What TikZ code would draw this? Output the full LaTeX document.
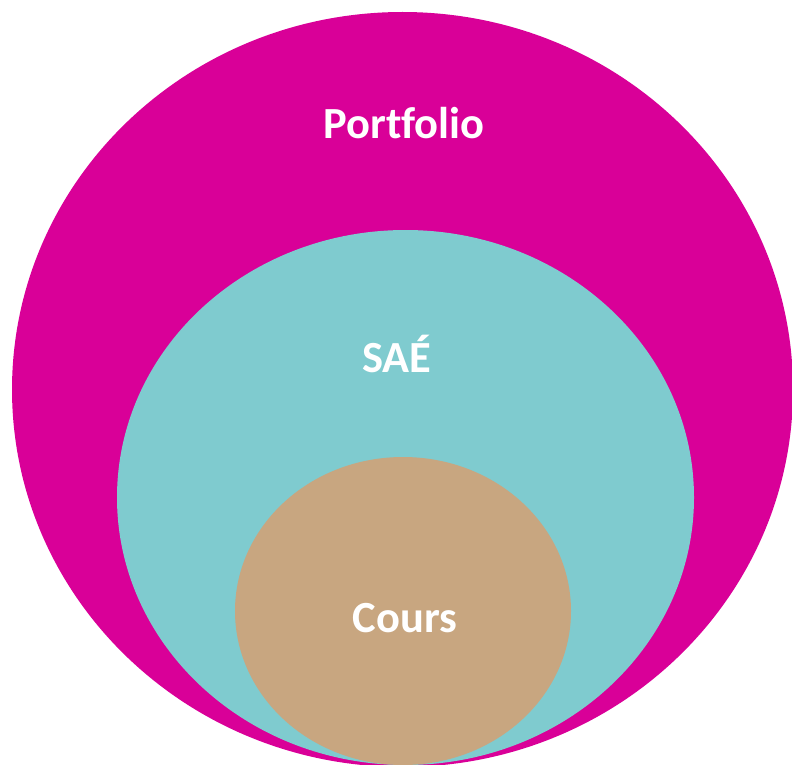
\documentclass[tikz,border=0pt]{standalone}
\usepackage{fontspec}
\setmainfont{Carlito}[Ligatures={NoCommon}]
\usetikzlibrary{shapes.geometric}
\definecolor{portmag}{RGB}{217,0,152}
\definecolor{saeteal}{RGB}{127,203,207}
\definecolor{courstan}{RGB}{200,166,128}
\tikzset{
  blob/.style={ellipse, draw=none, inner sep=0pt, outer sep=0pt},
  lbl/.style={text=white, font=\fontsize{44.5}{50}\selectfont\bfseries, anchor=base, inner sep=0pt}
}
\begin{document}
\begin{tikzpicture}[x=1pt, y=-1pt]
\useasboundingbox (0,0) rectangle (792,765);
\node[blob, fill=portmag, minimum width=781pt, minimum height=755pt] (port) at (402.5,389.5) {};
\node[blob, fill=saeteal, minimum width=577pt, minimum height=535pt] (sae) at (405.5,497.5) {};
\node[blob, fill=courstan, minimum width=336pt, minimum height=308pt] (cours) at (403,611) {};
\node[lbl] (tport) at (404,139) {Portfolio};
\node[lbl] (tsae) at (397,372) {SAÉ};
\node[lbl] (tcours) at (405,632) {Cours};
\end{tikzpicture}
\end{document}
